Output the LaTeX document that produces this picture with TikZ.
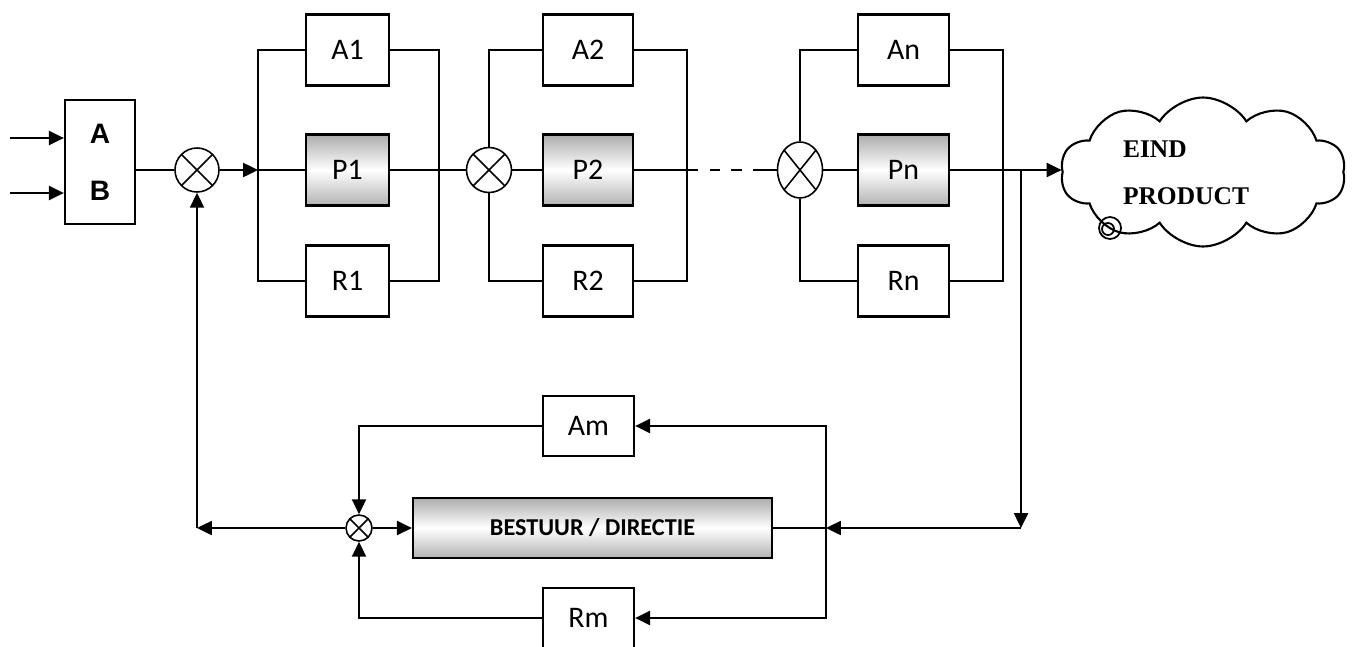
\documentclass[tikz,border=0pt]{standalone}
\usepackage{fontspec}
\newfontfamily\carlito{Carlito}
\newfontfamily\arialfont{Liberation Sans}
\newfontfamily\timesfont{Liberation Serif}
\usepackage{tikz}
\usetikzlibrary{arrows.meta}
\usetikzlibrary{shapes.geometric, shapes.symbols}
\usetikzlibrary{positioning}

\begin{document}
\begin{tikzpicture}[
        x=0.02cm, y=-0.02cm,
        line width=1.2pt,
        % 
        box node/.style={
            draw,
            line width=1.3pt,
            minimum width=1.66cm,
            minimum height=1.42cm,
            inner sep=0pt,
            font=\carlito\fontsize{17}{20}\selectfont,
        },
        % 
        proc node/.style={
            box node,
            top color=gray!65,
            bottom color=gray!60,
            middle color=white,
        },
        % 
        sum node/.style={
            circle,
            draw,
            line width=0.9pt,
            minimum size=0.88cm,
            inner sep=0pt,
            path picture={
                \draw[line width=0.9pt] (path picture bounding box.north west) -- (path picture bounding box.south east)
                (path picture bounding box.north east) -- (path picture bounding box.south west);
            }
        },
        normal edge/.style={-{Triangle[length=8.5pt,width=8pt]}},
        dash edge/.style={dash pattern=on 0.22cm off 0.24cm on 0.2cm off 0.22cm on 0.22cm off 0.22cm on 0.6cm}
        ]
        \useasboundingbox (0,0) rectangle (1354,646);
        
        % Vertices
        
        \node[draw, line width=1.3pt, minimum width=1.4cm, minimum height=2.48cm, inner sep=0pt, align=center,
            font=\arialfont\bfseries\fontsize{16}{32.3}\selectfont] (inp) at (100,162) {A\\B};
        \coordinate (inA) at (10,138);
        \coordinate (inB) at (10,193);
        \node[sum node] (sum1) at (197,170) {};
        %
        \node[box node] (A1) at (347.5,50) {A1};
        \node[proc node] (P1) at (347.5,170) {P1};
        \node[box node] (R1) at (347.5,281) {R1};
        \coordinate (l1) at (258,170);
        \coordinate (r1) at (439,170);
        %
        \node[sum node, minimum size=0.9cm] (sum2) at (489,170) {};
        \node[box node, minimum width=1.8cm] (A2) at (588,50) {A2};
        \node[proc node, minimum width=1.8cm] (P2) at (588,170) {P2};
        \node[box node, minimum width=1.8cm] (R2) at (588,281) {R2};
        \coordinate (r2) at (687,170);
        %
        \node[sum node, ellipse, minimum width=0.9cm, minimum height=1.12cm] (sumn) at (800,170) {};
        \node[box node, minimum width=1.82cm] (An) at (903.5,50) {An};
        \node[proc node, minimum width=1.82cm] (Pn) at (903.5,170) {Pn};
        \node[box node, minimum width=1.82cm] (Rn) at (903.5,281) {Rn};
        \coordinate (r3) at (1003,170);
        %
        \node[cloud, draw, line width=1.2pt, cloud puffs=10, cloud puff arc=115, aspect=1.95,
            minimum width=5.7cm, minimum height=2.98cm, inner sep=0pt] (prod) at (1203,172) {};
        \node[font=\timesfont\bfseries\fontsize{14.5}{26.7}\selectfont, align=left] (prodtext) at (1186,173) {EIND\\PRODUCT};
        \draw[line width=1pt] (1110,228) circle[radius=0.22cm];
        \draw[line width=1pt] (1108,229) circle[radius=0.12cm];
        %
        \node[box node, minimum width=1.82cm, minimum height=1.2cm] (Am) at (588.5,426) {Am};
        \node[proc node, minimum width=7.18cm, minimum height=1.2cm,
            font=\carlito\bfseries\fontsize{13.8}{16}\selectfont] (bes) at (592.5,528) {BESTUUR / DIRECTIE};
        \node[box node, minimum width=1.82cm, minimum height=1.2cm] (Rm) at (588.5,618) {Rm};
        \node[sum node, minimum size=0.52cm] (sm) at (359,528) {};
        \coordinate (fbr) at (1021,170);
        \coordinate (fbd) at (1021,528);
        \coordinate (vr) at (826,528);
        \coordinate (fbl) at (sum1 |- sm);
        
        % Edges
        
        \draw[normal edge] (inA) -- (inA -| inp.west);
        \draw[normal edge] (inB) -- (inB -| inp.west);
        \draw (inp.east |- sum1) -- (sum1);
        \draw[normal edge] (sum1) -- (l1);
        %
        \draw (A1.west) -| (l1) |- (R1.west);
        \draw (A1.east) -| (r1) |- (R1.east);
        \draw (l1) -- (P1);
        \draw (P1) -- (r1) -- (sum2);
        %
        \draw (A2.west) -| (sum2.north);
        \draw (R2.west) -| (sum2.south);
        \draw (A2.east) -| (r2) |- (R2.east);
        \draw (sum2) -- (P2);
        \draw (P2) -- (r2);
        \draw[dash edge] (r2) -- (r2 -| sumn.west);
        %
        \draw (An.west) -| (sumn.north);
        \draw (Rn.west) -| (sumn.south);
        \draw (An.east) -| (r3) |- (Rn.east);
        \draw (sumn) -- (Pn);
        \draw[normal edge] (Pn) -- (Pn -| prod.west);
        %
        \draw[normal edge] (fbr) -- (fbd);
        \draw[normal edge] (fbd) -- (vr);
        \draw (bes.east) -- (vr);
        \draw[normal edge] (vr) |- (Am.east);
        \draw[normal edge] (vr) |- (Rm.east);
        \draw[normal edge] (Am.west) -| (sm.north);
        \draw[normal edge] (Rm.west) -| (sm.south);
        \draw[normal edge] (sm) -- (bes);
        \draw[normal edge] (sm) -- (fbl);
        \draw[normal edge] (fbl) -- (sum1);
        % 
    \end{tikzpicture}
\end{document}
